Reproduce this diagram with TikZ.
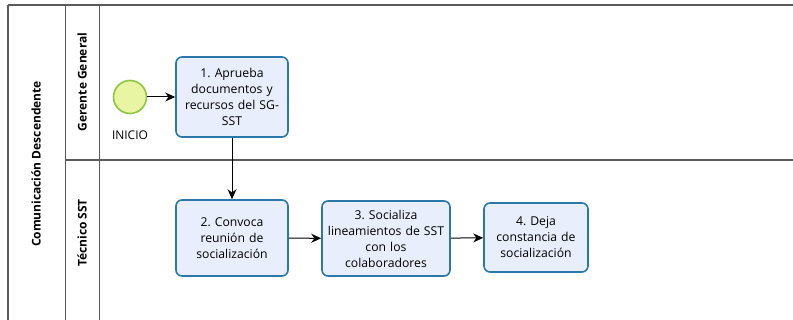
\documentclass[tikz,border=0pt]{standalone}
\usepackage{fontspec}
\setmainfont{Open Sans}
\usetikzlibrary{arrows.meta}
\definecolor{taskstroke}{HTML}{2A78A8}
\definecolor{taskfill}{HTML}{E8EEFB}
\definecolor{startstroke}{HTML}{8DC63F}
\definecolor{startfill}{HTML}{E8F5A3}
\definecolor{poolline}{HTML}{5A5A5A}
\tikzset{
  task/.style={draw=taskstroke, fill=taskfill, line width=1.6pt, rounded corners=6pt,
    align=center, font=\frenchspacing\fontsize{12.2}{16}\selectfont, inner sep=1pt},
  flow/.style={-{Stealth[length=10pt,width=9pt]}, line width=1pt, black},
  lanelabel/.style={rotate=90, font=\bfseries\fontsize{12}{14}\selectfont},
  poolborder/.style={draw=poolline, line width=1.2pt}
}
\begin{document}
\begin{tikzpicture}[x=1pt,y=-1pt]
\useasboundingbox (0,0) rectangle (793,320);
% pool structure
\draw[poolborder] (8,5) -- (793,5);
\draw[poolborder] (8,5) -- (8,320);
\draw[draw=poolline, line width=0.8pt] (65,5) -- (65,320);
\draw[draw=poolline, line width=0.8pt] (99,5) -- (99,320);
\draw[poolborder] (65,160) -- (793,160);
\node[lanelabel] (pool) at (36,164) {Comunicación Descendente};
\node[lanelabel] (lane1) at (82,82) {Gerente General};
\node[lanelabel] (lane2) at (82,233) {Técnico SST};
% start
\node[circle, draw=startstroke, fill=startfill, line width=1.6pt, minimum size=33pt, inner sep=0pt] (start) at (130,97) {};
\node[font=\fontsize{12}{14}\selectfont] (startlbl) at (130,135) {INICIO};
% tasks
\node[task, minimum width=112pt, minimum height=80pt, text width=110pt] (t1) at (232,97) {1. Aprueba\\documentos y\\recursos del SG-\\SST};
\node[task, minimum width=112pt, minimum height=76pt, text width=110pt] (t2) at (232,238) {2. Convoca\\reunión de\\socialización};
\node[task, minimum width=128pt, minimum height=75pt, text width=126pt] (t3) at (386,238.5) {3. Socializa\\lineamientos de SST\\con los\\colaboradores};
\node[task, minimum width=104pt, minimum height=69pt, text width=102pt] (t4) at (536,237.5) {4. Deja\\constancia de\\socialización};
% flows
\draw[flow] (start) -- (t1);
\draw[flow] (t1) -- (t2);
\draw[flow] (t2) -- (t3);
\draw[flow] (t3) -- (t4);
\end{tikzpicture}
\end{document}
